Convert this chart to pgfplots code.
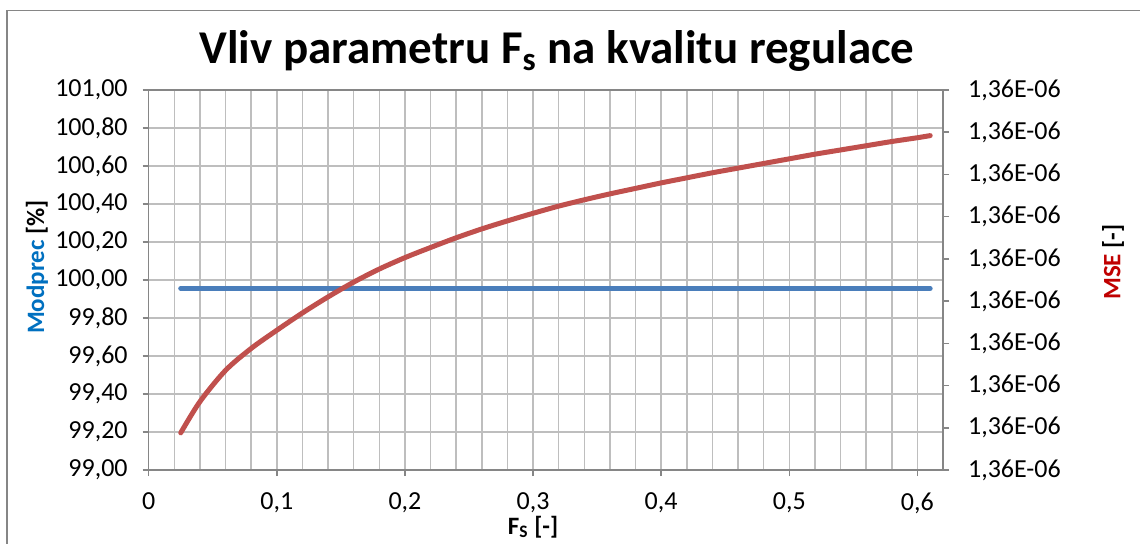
\documentclass[border=0pt]{standalone}
\usepackage{pgfplots}
\pgfplotsset{compat=1.18}
\usepackage{fontspec}
\setmainfont{Carlito}
\definecolor{gridc}{RGB}{190,190,190}
\definecolor{axc}{RGB}{134,134,134}
\definecolor{blueline}{RGB}{74,126,187}
\definecolor{redline}{RGB}{192,80,77}
\definecolor{lblblue}{RGB}{0,112,192}
\definecolor{lblred}{RGB}{192,0,0}
\begin{document}
\begin{tikzpicture}
\pgfplotsset{
  common/.style={
    scale only axis, width=397.15pt, height=190pt,
    at={(74.35pt,36.5pt)}, anchor=south west,
    xmin=0, xmax=0.62,
    tick label style={font=\fontsize{13}{15}\selectfont},
    axis line style={axc, line width=0.75pt},
    tick style={axc, line width=0.75pt},
    tick align=outside, major tick length=3pt, minor tick length=0pt,
  }
}
\begin{axis}[common,
  ymin=99, ymax=101,
  xtick={0,0.1,0.2,0.3,0.4,0.5,0.6},
  xticklabels={0,{0,1},{0,2},{0,3},{0,4},{0,5},{0,6}},
  minor xtick={0.02,0.04,0.06,0.08,0.12,0.14,0.16,0.18,0.22,0.24,0.26,0.28,0.32,0.34,0.36,0.38,0.42,0.44,0.46,0.48,0.52,0.54,0.56,0.58,0.62},
  ytick={99,99.2,99.4,99.6,99.8,100,100.2,100.4,100.6,100.8,101},
  yticklabels={{99,00},{99,20},{99,40},{99,60},{99,80},{100,00},{100,20},{100,40},{100,60},{100,80},{101,00}},
  xtick pos=bottom, ytick pos=left,
  grid=both,
  major grid style={gridc, line width=0.75pt},
  minor grid style={gridc, line width=0.75pt},
  xticklabel style={yshift=-5pt},
  yticklabel style={xshift=-4pt},
]
\addplot[blueline, line width=2.5pt, line cap=round] coordinates {
(0.025,99.956) (0.1,99.956) (0.2,99.956) (0.3,99.956) (0.4,99.956) (0.5,99.956) (0.61,99.956)};
\end{axis}
\begin{axis}[common,
  ymin=0, ymax=9,
  axis x line=none, axis y line*=right,
  ytick={0,1,2,3,4,5,6,7,8,9},
  yticklabels={{1,36E-06},{1,36E-06},{1,36E-06},{1,36E-06},{1,36E-06},{1,36E-06},{1,36E-06},{1,36E-06},{1,36E-06},{1,36E-06}},
  yticklabel style={xshift=6pt},
]
\addplot[redline, line width=2.5pt, line cap=round, smooth] coordinates {
(0.025,0.88) (0.04,1.62) (0.06,2.36) (0.08,2.88) (0.10,3.31) (0.12,3.72) (0.14,4.10)
(0.16,4.45) (0.18,4.76) (0.20,5.03) (0.22,5.27) (0.24,5.50) (0.26,5.71) (0.28,5.90)
(0.30,6.08) (0.32,6.25) (0.34,6.40) (0.36,6.54) (0.38,6.67) (0.40,6.80) (0.42,6.92)
(0.44,7.04) (0.46,7.15) (0.48,7.26) (0.50,7.37) (0.52,7.48) (0.54,7.58) (0.56,7.68)
(0.58,7.78) (0.60,7.87) (0.61,7.92)};
\end{axis}
\draw[axc, line width=0.75pt] (3.5pt,-5pt) -- (3.5pt,266.15pt) -- (580pt,266.15pt);
\node[anchor=base, font=\fontsize{23.5}{28}\selectfont\bfseries] at (278.5pt,240pt) {Vliv parametru F\textsubscript{s} na kvalitu regulace};
\node[rotate=90, font=\fontsize{12.5}{15}\selectfont\bfseries] at (18.5pt,138pt) {\textcolor{lblblue}{Modprec} [\%]};
\node[rotate=90, font=\fontsize{12.5}{15}\selectfont\bfseries] at (556.5pt,140.5pt) {\textcolor{lblred}{MSE} [-]};
\node[anchor=base, font=\fontsize{12.5}{15}\selectfont\bfseries] at (266.5pt,4.5pt) {F\textsubscript{S} [-]};
\pgfresetboundingbox
\useasboundingbox (0,0) rectangle (570pt,271.5pt);
\end{tikzpicture}
\end{document}
